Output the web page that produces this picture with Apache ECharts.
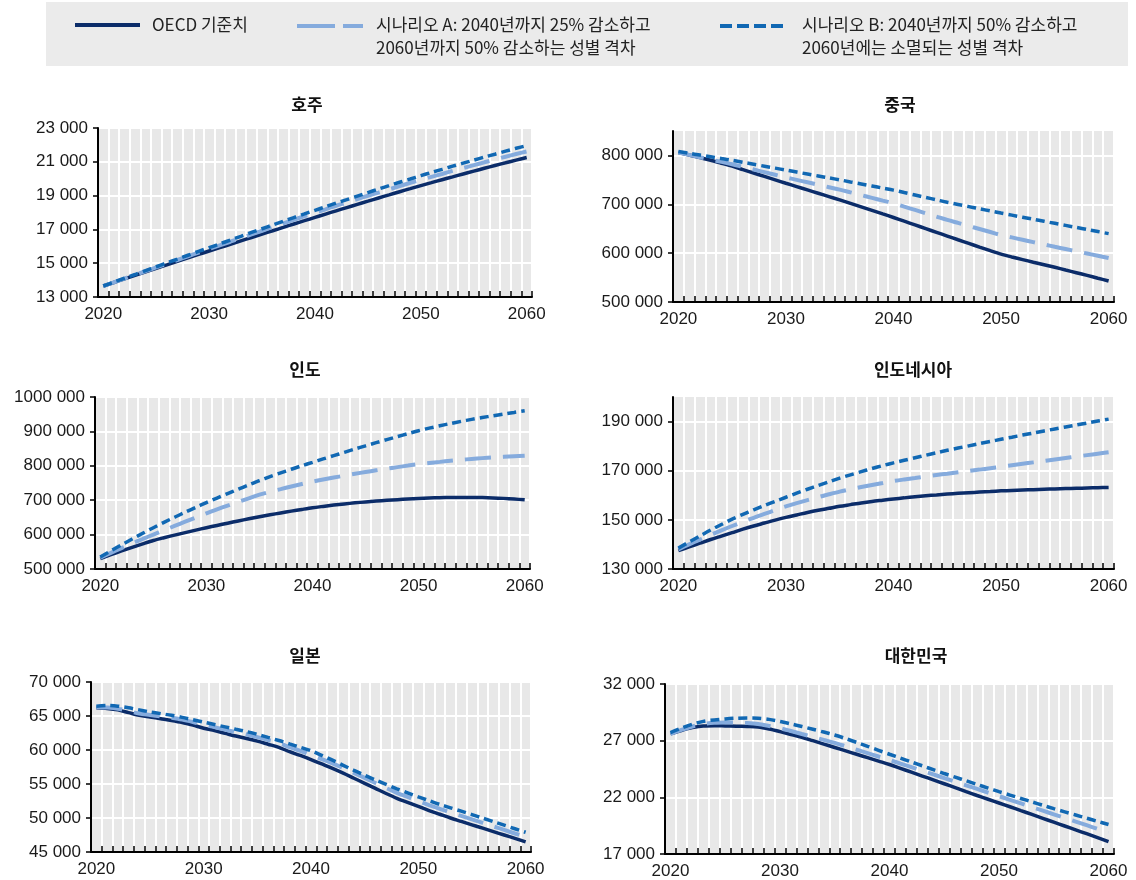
<!DOCTYPE html>
<html>
<head>
<meta charset="utf-8">
<script src="https://cdn.jsdelivr.net/npm/echarts@6/dist/echarts.min.js"></script>
<style>
html,body{margin:0;padding:0;background:#fff;}
#c{width:1136px;height:880px;}
</style>
</head>
<body>
<div id="c"></div>
<script>
const years = ['2020','2021','2022','2023','2024','2025','2026','2027','2028','2029','2030','2031','2032','2033','2034','2035','2036','2037','2038','2039','2040','2041','2042','2043','2044','2045','2046','2047','2048','2049','2050','2051','2052','2053','2054','2055','2056','2057','2058','2059','2060'];

const seriesNames = ['OECD 기준치', '시나리오 A: 2040년까지 25% 감소하고\n2060년까지 50% 감소하는 성별 격차', '시나리오 B: 2040년까지 50% 감소하고\n2060년에는 소멸되는 성별 격차'];
const panelTitles = ['호주', '중국', '인도', '인도네시아', '일본', '대한민국'];

// 호주
const ausBase = [13650,13860,14070,14280,14490,14700,14905,15110,15315,15520,15720,15920,16120,16320,16520,16720,16920,17120,17320,17515,17710,17905,18100,18290,18480,18670,18860,19045,19230,19410,19590,19765,19940,20110,20280,20450,20615,20780,20940,21100,21250];
const ausA = [13650,13870,14090,14310,14530,14750,14970,15190,15410,15630,15840,16060,16270,16490,16700,16920,17140,17350,17570,17780,17990,18190,18400,18590,18790,18990,19180,19370,19560,19750,19930,20110,20280,20460,20630,20800,20970,21130,21300,21460,21610];
const ausB = [13650,13880,14110,14330,14560,14790,15020,15240,15470,15700,15920,16140,16370,16590,16820,17040,17260,17480,17700,17915,18130,18340,18560,18760,18970,19180,19390,19590,19790,19980,20180,20370,20550,20740,20920,21100,21280,21450,21630,21800,21960];

// 중국
const chnBase = [806000,801000,795500,790000,784000,778000,771000,764000,757000,750000,743000,736200,729400,722600,715800,709000,701800,694600,687400,680200,673000,665400,657800,650200,642600,635000,627400,620000,612400,605000,598000,592200,586800,581400,576200,571000,565500,560000,554400,548700,543000];
const chnA = [806000,801200,796400,791600,786800,782000,776600,771200,765800,760400,755000,750000,745000,740000,735000,730000,724400,718800,713200,707600,702000,695200,688400,681600,674800,668000,661800,655600,649400,643200,637000,632200,627400,622600,617800,613000,608400,603800,599200,594600,590000];
const chnB = [808000,804400,800800,797200,793600,790000,786000,782000,778000,774000,770000,766000,762000,758000,754000,750000,745800,741600,737400,733200,729000,724000,719000,714000,709000,704000,699600,695200,690800,686400,682000,677800,673600,669400,665200,661000,656800,652600,648400,644200,640000];

// 인도
const indBase = [530000,541500,552500,563000,573200,583000,591000,598500,605800,613000,620000,626700,633200,639600,645900,652000,657600,663000,668200,673200,678000,682000,685800,689200,692300,695000,697400,699600,701600,703400,705000,706300,707200,707800,708100,708000,707500,706600,705300,703400,701000];
const indA = [533000,547000,560800,574200,587300,600000,612600,625100,637500,649800,662000,673400,684400,695000,705500,716000,724500,732200,739800,747000,754000,760000,765800,771400,776800,782000,786800,791500,796100,800600,805000,808300,811400,814500,817300,820000,822300,824300,826000,827600,829000];
const indB = [535000,552800,570200,587200,603800,620000,635500,650500,665000,679200,693000,706300,719300,732000,744600,757000,768400,779400,790000,800200,810000,819900,829600,839200,848700,858000,867200,876100,884800,893500,902000,909400,916300,922900,929100,935000,940400,945500,950400,955200,960000];

// 인도네시아
const idnBase = [137500,139000,140500,142000,143400,144800,146200,147500,148700,149900,151000,152000,153000,153900,154700,155500,156200,156900,157500,158000,158500,158950,159400,159800,160150,160500,160800,161050,161300,161550,161800,161980,162150,162300,162450,162600,162730,162850,162970,163090,163200];
const idnA = [138000,140000,141950,143850,145700,147500,149200,150850,152400,153950,155500,156800,158050,159250,160400,161500,162450,163350,164200,165000,165800,166450,167050,167650,168250,168800,169350,169900,170450,171030,171600,172200,172800,173400,174000,174600,175180,175760,176340,176920,177500];
const idnB = [138500,141000,143450,145850,148100,150300,152250,154100,155850,157550,159200,160850,162450,164000,165500,167000,168330,169630,170900,172080,173200,174250,175280,176300,177300,178300,179220,180120,181020,181910,182800,183650,184500,185340,186170,187000,187800,188600,189400,190200,191000];

// 일본
const jpnBase = [66200,66100,65900,65500,65100,64850,64600,64350,64050,63650,63200,62850,62450,62050,61700,61300,60850,60400,59750,59200,58600,57950,57300,56600,55850,55100,54350,53600,52900,52300,51700,51100,50550,50000,49500,49000,48500,48000,47500,47000,46500];
const jpnA = [66300,66240,66080,65720,65360,65150,64940,64730,64470,64110,63700,63370,62990,62610,62280,61900,61470,61040,60410,59880,59300,58670,58040,57360,56630,55900,55150,54400,53700,53100,52500,51900,51350,50800,50300,49800,49280,48760,48240,47720,47200];
const jpnB = [66450,66550,66450,66200,65900,65600,65350,65100,64800,64450,64100,63750,63400,63050,62700,62300,61850,61400,60900,60400,59900,59200,58500,57750,57000,56300,55600,54950,54300,53700,53100,52550,52000,51500,51000,50500,49980,49460,48940,48420,47900];

// 대한민국
const korBase = [27600,27900,28150,28300,28320,28300,28280,28250,28200,28030,27800,27550,27300,27000,26700,26400,26100,25800,25500,25200,24900,24560,24220,23880,23540,23200,22850,22500,22160,21830,21500,21170,20830,20490,20150,19810,19470,19130,18790,18450,18100];
const korA = [27600,27950,28250,28480,28580,28600,28590,28560,28480,28300,28100,27850,27590,27330,27070,26800,26500,26200,25900,25600,25300,24980,24660,24340,24020,23700,23380,23060,22740,22420,22100,21780,21460,21140,20820,20500,20180,19860,19540,19220,18900];
const korB = [27700,28100,28450,28700,28830,28920,28980,29000,28980,28880,28700,28480,28250,28010,27760,27500,27180,26850,26500,26150,25800,25460,25120,24780,24440,24100,23780,23460,23140,22820,22500,22200,21900,21600,21300,21000,20720,20440,20160,19880,19600];

// y-axis ranges and tick labels
const yMins = [13000, 500000, 500000, 130000, 45000, 17000];
const yMaxs = [23000, 850000, 1000000, 200000, 70000, 32000];
const yIntervals = [2000, 100000, 100000, 20000, 5000, 5000];
const yTickValues = [
  [13000,15000,17000,19000,21000,23000],
  [500000,600000,700000,800000],
  [500000,600000,700000,800000,900000,1000000],
  [130000,150000,170000,190000],
  [45000,50000,55000,60000,65000,70000],
  [17000,22000,27000,32000]
];
const panelData = [
  [ausBase, ausA, ausB],
  [chnBase, chnA, chnB],
  [indBase, indA, indB],
  [idnBase, idnA, idnB],
  [jpnBase, jpnA, jpnB],
  [korBase, korA, korB]
];

// layout
const grids = [
  {left: 98, top: 128, width: 434, height: 169},
  {left: 673, top: 131, width: 441, height: 171},
  {left: 95, top: 397, width: 435, height: 172},
  {left: 673, top: 397, width: 441, height: 172},
  {left: 91, top: 682, width: 440, height: 170},
  {left: 665, top: 684, width: 449, height: 171}
];
const titlePos = [[302,103],[895,103],[300,368],[908,368],[300,654],[911,654]];

const colors = ['#0b2c69', '#85abdd', '#1168b3'];
const widths = [3.5, 4, 3.5];
const dashes = ['solid', [26, 12], [9, 5]];

const fmt = v => { const s = String(Math.round(v)); return s.length > 3 ? s.slice(0, -3) + ' ' + s.slice(-3) : s; };
const numFont = 'Liberation Sans';
const krFont = 'Noto Sans CJK KR';
const legFont = '17px "Noto Sans CJK KR"';

const option = {
  animation: false,
  backgroundColor: '#ffffff',
  title: panelTitles.map((t, i) => ({
    text: t, left: titlePos[i][0], top: titlePos[i][1] - 12, textAlign: 'center',
    textStyle: {fontFamily: krFont, fontSize: 17, fontWeight: 'bold', color: '#111'}
  })),
  grid: grids.map(g => Object.assign({show: true, backgroundColor: '#e8e8e8', borderWidth: 0, containLabel: false}, g)),
  xAxis: grids.map((g, i) => ({
    type: 'category', gridIndex: i, data: years, boundaryGap: true,
    axisLine: {show: true, lineStyle: {color: '#000', width: 2}},
    axisTick: {show: true, inside: true, length: 6, interval: 0, lineStyle: {color: '#000', width: 1.5}},
    axisLabel: {interval: 9, fontFamily: numFont, fontSize: 17, color: '#1a1a1a', margin: 9},
    splitLine: {show: true, interval: 0, lineStyle: {color: '#ffffff', width: 2}}
  })),
  yAxis: grids.map((g, i) => ({
    type: 'value', gridIndex: i, min: yMins[i], max: yMaxs[i], interval: yIntervals[i],
    axisLine: {show: true, lineStyle: {color: '#000', width: 2}},
    axisTick: {show: true, length: 5, lineStyle: {color: '#000', width: 1.5}, customValues: yTickValues[i]},
    axisLabel: {fontFamily: numFont, fontSize: 17, color: '#1a1a1a', margin: 10, formatter: fmt, customValues: yTickValues[i]},
    splitLine: {show: true, lineStyle: {color: '#ffffff', width: 2}}
  })),
  series: [],
  graphic: [
    {type: 'rect', shape: {x: 46, y: 2, width: 1082, height: 64}, style: {fill: '#ebebeb'}, z: 0},
    {type: 'line', shape: {x1: 75, y1: 25, x2: 140, y2: 25}, style: {stroke: colors[0], lineWidth: 4}},
    {type: 'text', style: {text: 'OECD 기준치', x: 152, y: 25, font: legFont, fill: '#222', verticalAlign: 'middle'}},
    {type: 'line', shape: {x1: 297, y1: 26, x2: 363, y2: 26}, style: {stroke: colors[1], lineWidth: 4, lineDash: [38, 8]}},
    {type: 'text', style: {text: '시나리오 A: 2040년까지 25% 감소하고', x: 376, y: 25, font: legFont, fill: '#222', verticalAlign: 'middle'}},
    {type: 'text', style: {text: '2060년까지 50% 감소하는 성별 격차', x: 376, y: 48, font: legFont, fill: '#222', verticalAlign: 'middle'}},
    {type: 'line', shape: {x1: 720, y1: 26, x2: 786, y2: 26}, style: {stroke: colors[2], lineWidth: 4, lineDash: [12, 5]}},
    {type: 'text', style: {text: '시나리오 B: 2040년까지 50% 감소하고', x: 802, y: 25, font: legFont, fill: '#222', verticalAlign: 'middle'}},
    {type: 'text', style: {text: '2060년에는 소멸되는 성별 격차', x: 802, y: 48, font: legFont, fill: '#222', verticalAlign: 'middle'}}
  ]
};

panelData.forEach((arrs, i) => {
  arrs.forEach((d, k) => {
    option.series.push({
      type: 'line', name: seriesNames[k], xAxisIndex: i, yAxisIndex: i, data: d,
      smooth: 0.3, symbol: 'none', z: 3 + k,
      lineStyle: {color: colors[k], width: widths[k], type: dashes[k], cap: 'butt'}
    });
  });
});

const chart = echarts.init(document.getElementById('c'), null, {renderer: 'canvas'});
chart.setOption(option);
</script>
</body>
</html>
